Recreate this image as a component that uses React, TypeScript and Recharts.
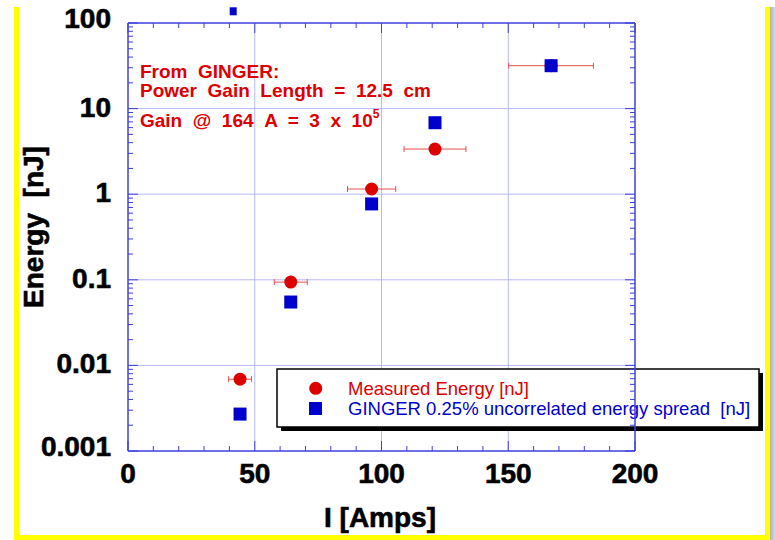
import {
  CartesianGrid,
  Customized,
  ErrorBar,
  ReferenceDot,
  Scatter,
  ScatterChart,
  XAxis,
  YAxis,
} from 'recharts';

// beam current [A] and energies [nJ]
const measuredCurrent = [44.2, 64.2, 96.1, 121.1, 166.9];
const measuredEnergy = [0.0069, 0.094, 1.15, 3.37, 31.7];
const currentSpread = [4.5, 6.5, 9.5, 12.2, 16.7];

const gingerCurrent = [44.2, 64.2, 96.1, 121.1, 166.9];
const gingerEnergy = [0.0027, 0.055, 0.77, 6.84, 31.7];

// one GINGER point sits above the top of the frame
const offscaleCurrent = 41.5;
const offscaleEnergy = 137;

const xTicks = [0, 10, 20, 30, 40, 50, 60, 70, 80, 90, 100, 110, 120, 130, 140, 150, 160, 170, 180, 190, 200];
const xMajor = [0, 50, 100, 150, 200];
const yDecades = [0.001, 0.01, 0.1, 1, 10, 100];
const yDecadeLabels = ['0.001', '0.01', '0.1', '1', '10', '100'];
const yMinorSteps = [2, 3, 4, 5, 6, 7, 8, 9];

const yTicks = [
  ...yDecades,
  ...yDecades.slice(0, -1).flatMap((d) => yMinorSteps.map((m) => +(d * m).toPrecision(3))),
].sort((a, b) => a - b);

const measured = measuredCurrent.map((x, i) => ({ x, y: measuredEnergy[i], err: currentSpread[i] }));
const ginger = gingerCurrent.map((x, i) => ({ x, y: gingerEnergy[i] }));

const FRAME = '#3f3fe0';
const GRID = '#b8b8f4';
const RED = '#dd0000';
const BLUE = '#0000cc';
const FONT = '"Liberation Sans", Arial, Helvetica, sans-serif';
const SP = '\u00a0'; // extra spaces survive in svg text

const tickText = {
  fontFamily: FONT,
  fontWeight: 700,
  fontSize: 28,
  fill: '#000',
  stroke: '#000',
  strokeWidth: 0.6,
};

const LeftTick = (props: any) => {
  const { x, y, payload } = props;
  const idx = yDecades.indexOf(payload.value);
  const major = idx >= 0;
  const edge = idx === 0 || idx === yDecades.length - 1;
  return (
    <g>
      <line x1={x} x2={x + (major ? 10 : 5)} y1={y} y2={y} stroke={FRAME} strokeWidth={1} />
      {major && (
        <text x={x - 17} y={y + (edge ? 5 : 8)} textAnchor="end" style={tickText}>
          {yDecadeLabels[idx]}
        </text>
      )}
    </g>
  );
};

const RightTick = (props: any) => {
  const { x, y, payload } = props;
  const major = yDecades.includes(payload.value);
  return <line x1={x} x2={x - (major ? 10 : 5)} y1={y} y2={y} stroke={FRAME} strokeWidth={1} />;
};

const BottomTick = (props: any) => {
  const { x, y, payload } = props;
  const major = xMajor.includes(payload.value);
  return (
    <g>
      <line x1={x} x2={x} y1={y} y2={y - (major ? 10 : 5)} stroke={FRAME} strokeWidth={1} />
      {major && (
        <text x={x} y={y + 32} textAnchor="middle" style={tickText}>
          {payload.value}
        </text>
      )}
    </g>
  );
};

const TopTick = (props: any) => {
  const { x, y, payload } = props;
  const major = xMajor.includes(payload.value);
  return <line x1={x} x2={x} y1={y} y2={y + (major ? 10 : 5)} stroke={FRAME} strokeWidth={1} />;
};

const Annotations = () => (
  <g>
    <text x={43} y={227} transform="rotate(-90 43 227)" textAnchor="middle" style={tickText}>
      {`Energy ${SP}[nJ]`}
    </text>
    <text x={380} y={527} textAnchor="middle" style={tickText}>
      I [Amps]
    </text>

    <g fontFamily={FONT} fontWeight={700} fontSize={19} fill={RED}>
      <text x={140} y={78}>{`From ${SP}GINGER:`}</text>
      <text x={140} y={97}>{`Power ${SP}Gain ${SP}Length ${SP}= ${SP}12.5 ${SP}cm`}</text>
      <text x={140} y={127}>
        {`Gain ${SP}@ ${SP}164 ${SP}A ${SP}= ${SP}3 ${SP}x ${SP}10`}
        <tspan dy={-9} fontSize={12}>5</tspan>
      </text>
    </g>

    <rect x={281} y={373} width={482} height={58} fill="#000" />
    <rect x={277} y={369} width={482} height={58} fill="#fff" stroke="#000" strokeWidth={1.5} />
    <circle cx={315.7} cy={388.3} r={6.5} fill={RED} />
    <rect x={309} y={402} width={13} height={13} fill={BLUE} />
    <g fontFamily={FONT} fontSize={18.5}>
      <text x={348} y={395} fill={RED}>Measured Energy [nJ]</text>
      <text x={348} y={415} fill={BLUE}>{`GINGER 0.25% uncorrelated energy spread ${SP}[nJ]`}</text>
    </g>
  </g>
);

export default function App() {
  return (
    <div
      style={{
        position: 'absolute',
        left: 0,
        top: 0,
        width: 775,
        height: 540,
        background: '#fff',
        overflow: 'hidden',
      }}
    >
      <div
        style={{
          position: 'absolute',
          left: 14,
          top: 7,
          width: 756,
          height: 533,
          boxSizing: 'border-box',
          borderLeft: '5px solid #ffff00',
          borderRight: '5px solid #ffff00',
          borderBottom: '5px solid #ffff00',
        }}
      />
      <div
        style={{
          position: 'absolute',
          left: 770,
          top: 7,
          width: 5,
          height: 533,
          background: 'linear-gradient(to right, #b0b0b0, #d8d8d8)',
        }}
      />
      <div style={{ position: 'absolute', left: 0, top: 0 }}>
        <ScatterChart width={775} height={540} margin={{ top: 22, right: 139, bottom: 29, left: 18 }}>
          <CartesianGrid stroke={GRID} strokeWidth={1} horizontalValues={[0.01, 0.1, 1, 10]} verticalValues={[50, 100, 150]} />
          <XAxis
            type="number"
            dataKey="x"
            domain={[0, 200]}
            allowDataOverflow
            ticks={xTicks}
            interval={0}
            height={60}
            tickSize={0}
            tickMargin={0}
            tickLine={false}
            axisLine={{ stroke: FRAME, strokeWidth: 1.5 }}
            tick={<BottomTick />}
          />
          <XAxis
            xAxisId="top"
            orientation="top"
            type="number"
            dataKey="x"
            domain={[0, 200]}
            allowDataOverflow
            ticks={xTicks}
            interval={0}
            height={1}
            tickSize={0}
            tickMargin={0}
            tickLine={false}
            axisLine={{ stroke: FRAME, strokeWidth: 1.5 }}
            tick={<TopTick />}
          />
          <YAxis
            type="number"
            dataKey="y"
            scale="log"
            domain={[0.001, 100]}
            allowDataOverflow
            ticks={yTicks}
            interval={0}
            width={110}
            tickSize={0}
            tickMargin={0}
            tickLine={false}
            axisLine={{ stroke: FRAME, strokeWidth: 1.5 }}
            tick={<LeftTick />}
          />
          <YAxis
            yAxisId="right"
            orientation="right"
            type="number"
            dataKey="y"
            scale="log"
            domain={[0.001, 100]}
            allowDataOverflow
            ticks={yTicks}
            interval={0}
            width={1}
            tickSize={0}
            tickMargin={0}
            tickLine={false}
            axisLine={{ stroke: FRAME, strokeWidth: 1.5 }}
            tick={<RightTick />}
          />
          <Scatter
            name="Measured Energy [nJ]"
            data={measured}
            isAnimationActive={false}
            shape={(p: any) => <circle cx={p.cx} cy={p.cy} r={6.5} fill={RED} />}
          >
            <ErrorBar dataKey="err" direction="x" width={3} stroke="#e85050" strokeWidth={1} isAnimationActive={false} />
          </Scatter>
          {/* GINGER plotted against the mirror axes (same domain) */}
          <Scatter
            name="GINGER 0.25% uncorrelated energy spread [nJ]"
            data={ginger}
            xAxisId="top"
            yAxisId="right"
            isAnimationActive={false}
            shape={(p: any) => <rect x={p.cx - 6.5} y={p.cy - 6.5} width={13} height={13} fill={BLUE} />}
          />
          <ReferenceDot
            x={offscaleCurrent}
            y={offscaleEnergy}
            ifOverflow="visible"
            shape={(p: any) => <rect x={p.cx - 3.5} y={p.cy - 4} width={7} height={8} fill={BLUE} />}
          />
          <Customized component={Annotations} />
        </ScatterChart>
      </div>
    </div>
  );
}
